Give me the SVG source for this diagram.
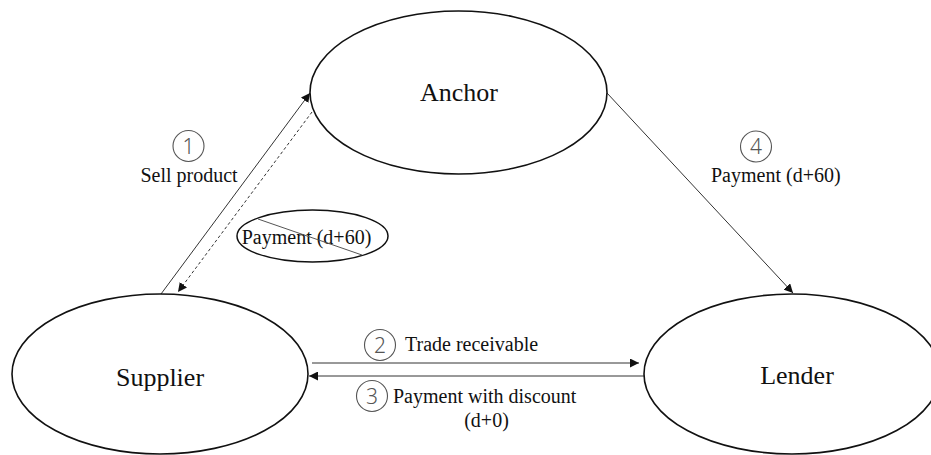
<svg xmlns="http://www.w3.org/2000/svg" width="931" height="455" viewBox="0 0 931 455">
  <style>
    .node { fill: #ffffff; stroke: #111111; stroke-width: 1.6; }
    .name { font-family: "Liberation Serif", "Times New Roman", serif; font-size: 26px; fill: #111111; text-anchor: middle; }
    .label { font-family: "Liberation Serif", "Times New Roman", serif; font-size: 20px; fill: #111111; }
    .step { fill: none; stroke: #555555; stroke-width: 1.1; }
    .num { font-family: "Noto Sans", "DejaVu Sans", sans-serif; font-weight: 300; font-size: 21px; fill: #555555; text-anchor: middle; }
    .edge { fill: none; stroke: #333333; stroke-width: 1; }
    .dashed { stroke-dasharray: 3 2.5; }
  </style>
  <defs>
    <marker id="arrow" viewBox="0 0 10 10" refX="10" refY="5" markerWidth="9" markerHeight="9" markerUnits="userSpaceOnUse" orient="auto">
      <path d="M0,0 L10,5 L0,10 Z" fill="#111111"/>
    </marker>
  </defs>

  <rect width="931" height="455" fill="#ffffff"/>

  <!-- connectors -->
  <g id="connectors">
    <line class="edge" x1="161" y1="294" x2="310" y2="93" marker-end="url(#arrow)"/>
    <line class="edge dashed" x1="312" y1="112" x2="178" y2="292" marker-end="url(#arrow)"/>
    <line class="edge" x1="607" y1="93" x2="793" y2="293" marker-end="url(#arrow)"/>
    <line class="edge" x1="312" y1="363" x2="639" y2="363" marker-end="url(#arrow)"/>
    <line class="edge" x1="644" y1="376" x2="309" y2="376" marker-end="url(#arrow)"/>
  </g>

  <!-- nodes -->
  <g id="anchor">
    <ellipse class="node" cx="458.5" cy="92.5" rx="148.5" ry="81.5"/>
    <text class="name" x="459" y="101">Anchor</text>
  </g>
  <g id="supplier">
    <ellipse class="node" cx="160" cy="374" rx="148" ry="80"/>
    <text class="name" x="160" y="386">Supplier</text>
  </g>
  <g id="lender">
    <ellipse class="node" cx="792" cy="374" rx="148" ry="80"/>
    <text class="name" x="797" y="384">Lender</text>
  </g>

  <!-- step 1 -->
  <g id="step1">
    <circle class="step" cx="188.5" cy="146" r="15.5"/>
    <text class="num" x="188.5" y="153.5">1</text>
    <text class="label" x="189" y="182" text-anchor="middle">Sell product</text>
  </g>

  <!-- cancelled payment -->
  <g id="cancelled-payment">
    <ellipse fill="none" stroke="#111111" stroke-width="1.5" cx="312.5" cy="236" rx="75.5" ry="26"/>
    <text class="label" x="306.5" y="244" text-anchor="middle">Payment (d+60)</text>
    <line x1="258" y1="219" x2="362" y2="255" stroke="#555555" stroke-width="1"/>
  </g>

  <!-- step 2 -->
  <g id="step2">
    <circle class="step" cx="380" cy="345" r="15.5"/>
    <text class="num" x="380" y="352.5">2</text>
    <text class="label" x="405" y="351">Trade receivable</text>
  </g>

  <!-- step 3 -->
  <g id="step3">
    <circle class="step" cx="372" cy="396" r="15.5"/>
    <text class="num" x="372" y="403.5">3</text>
    <text class="label" x="393" y="403">Payment with discount</text>
    <text class="label" x="486.5" y="427" text-anchor="middle">(d+0)</text>
  </g>

  <!-- step 4 -->
  <g id="step4">
    <circle class="step" cx="756" cy="146.5" r="15.5"/>
    <text class="num" x="756" y="154">4</text>
    <text class="label" x="711" y="182">Payment (d+60)</text>
  </g>
</svg>
